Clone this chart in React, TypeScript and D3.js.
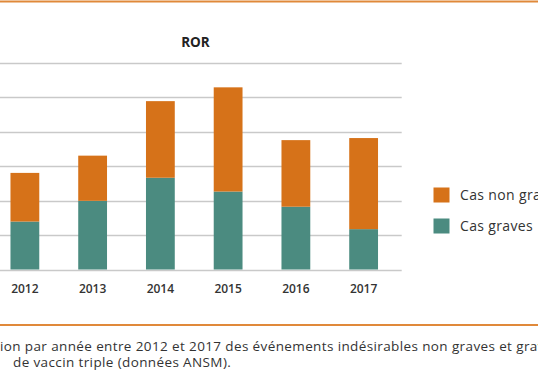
import React from 'react';
import * as d3 from 'd3';

// Years on the x axis
const years = ['2012', '2013', '2014', '2015', '2016', '2017'];
// Serious cases (bottom segment)
const casGraves = [139, 199, 266, 226, 182, 117];
// Non-serious cases (top segment)
const casNonGraves = [141, 131, 222, 302, 193, 264];
const yTicks = [0, 100, 200, 300, 400, 500, 600];
const seriesLabels = ['Cas non graves', 'Cas graves'];
const captionLines = [
  'ion par année entre 2012 et 2017 des événements indésirables non graves et graves',
  'de vaccin triple (données ANSM).',
];

const ORANGE = '#D67219';
const TEAL = '#4B8B80';
const FONT = '"Open Sans", Roboto, sans-serif';

export default function App() {
  const svgRef = React.useRef<SVGSVGElement>(null);
  const width = 538;
  const height = 384;

  React.useEffect(() => {
    const svg = d3.select(svgRef.current);
    svg.selectAll('*').remove();

    // plot area (left side is cut off in the original)
    const x = d3.scaleBand().domain(years).range([-9, 397.5]).paddingInner(0.575).paddingOuter(0.2875);
    const y = d3.scaleLinear().domain([0, 600]).range([269.5, 62.5]);

    // orange rules top and bottom
    svg.append('line').attr('x1', 0).attr('x2', width).attr('y1', 1.5).attr('y2', 1.5)
      .attr('stroke', '#E0893A').attr('stroke-width', 2);
    svg.append('line').attr('x1', 0).attr('x2', width).attr('y1', 325).attr('y2', 325)
      .attr('stroke', '#E0893A').attr('stroke-width', 2);

    // title
    svg.append('text').attr('x', 195.5).attr('y', 46.7).attr('text-anchor', 'middle')
      .attr('font-family', FONT).attr('font-weight', 700).attr('font-size', 13.5)
      .attr('fill', '#222').text('ROR');

    // gridlines
    svg.append('g').selectAll('line').data(yTicks).join('line')
      .attr('x1', 0).attr('x2', 401.7)
      .attr('y1', (d) => Math.round(y(d)) + 0.5).attr('y2', (d) => Math.round(y(d)) + 0.5)
      .attr('stroke', '#c9c9c9').attr('stroke-width', 1.5);

    // stacked bars
    const rows = years.map((yr, i) => ({ year: yr, graves: casGraves[i], nonGraves: casNonGraves[i] }));
    const stack = d3.stack<any>().keys(['graves', 'nonGraves'])(rows);
    const colors = [TEAL, ORANGE];
    stack.forEach((layer, li) => {
      svg.append('g').selectAll('rect').data(layer).join('rect')
        .attr('x', (d) => x(d.data.year)!)
        .attr('width', x.bandwidth())
        .attr('y', (d) => y(d[1]))
        .attr('height', (d) => y(d[0]) - y(d[1]))
        .attr('fill', colors[li]);
    });

    // x axis labels
    svg.append('g').selectAll('text').data(years).join('text')
      .attr('x', (d) => x(d)! + x.bandwidth() / 2)
      .attr('y', 293)
      .attr('text-anchor', 'middle')
      .attr('font-family', FONT).attr('font-weight', 600).attr('font-size', 12)
      .attr('fill', '#333').text((d) => d);

    // legend
    const legendColors = [ORANGE, TEAL];
    const lg = svg.append('g').selectAll('g').data(seriesLabels).join('g')
      .attr('transform', (_, i) => `translate(433.5, ${187.5 + i * 31})`);
    lg.append('rect').attr('width', 16).attr('height', 15).attr('fill', (_, i) => legendColors[i]);
    lg.append('text').attr('x', 26.5).attr('y', 12.5)
      .attr('font-family', FONT).attr('font-size', 14).attr('letter-spacing', 0.35)
      .attr('fill', '#333')
      .text((d) => d);

    // caption
    svg.append('g').selectAll('text').data(captionLines).join('text')
      .attr('x', (_, i) => (i === 0 ? 0 : 13))
      .attr('y', (_, i) => 351 + i * 15.5)
      .attr('font-family', FONT).attr('font-size', 13.5).attr('letter-spacing', 0.38)
      .attr('fill', '#333')
      .text((d) => d);
  }, []);

  return (
    <svg ref={svgRef} width={width} height={height}
      style={{ position: 'absolute', left: 0, top: 0, background: '#fff' }} />
  );
}
